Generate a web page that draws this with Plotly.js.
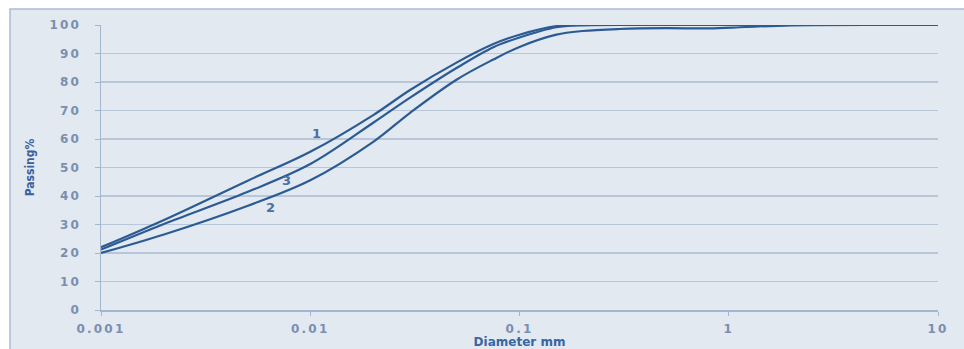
<!DOCTYPE html>
<html>
<head>
<meta charset="utf-8">
<script src="https://cdn.plot.ly/plotly-3.0.1.min.js"></script>
<style>
html,body{margin:0;padding:0;background:#ffffff;}
#chart{width:964px;height:349px;}
.xtick text,.ytick text{letter-spacing:2.2px;}
</style>
</head>
<body>
<div id="chart"></div>
<script>
// Diameters (mm) and percent passing for each curve
var diam1 = [0.001, 0.002, 0.005, 0.01, 0.02, 0.03, 0.05, 0.075, 0.1, 0.15, 0.2, 0.5, 1, 2, 10];
var pass1 = [22, 31.6, 45.3, 55.5, 68.4, 77.2, 86.8, 93.3, 96.6, 99.6, 100, 100, 100, 100, 100];

var diam2 = [0.001, 0.002, 0.005, 0.01, 0.02, 0.03, 0.05, 0.075, 0.1, 0.15, 0.2, 0.3, 0.5, 0.8, 1.2, 2, 10];
var pass2 = [20, 26.5, 36.5, 45.5, 59, 69.2, 80.8, 87.9, 92.3, 96.6, 97.9, 98.6, 98.9, 98.8, 99.3, 99.9, 100];

var diam3 = [0.001, 0.002, 0.005, 0.01, 0.02, 0.03, 0.05, 0.075, 0.1, 0.15, 0.2, 0.5, 1, 2, 10];
var pass3 = [21.2, 30.2, 41.4, 51.2, 65.7, 74.5, 84.9, 92.2, 95.6, 99.2, 99.9, 100, 100, 100, 100];

var curveLabels = ["1", "2", "3"];
var labelX = [0.01076, 0.00643, 0.00774];
var labelY = [62.1, 35.8, 45.3];

var xTickVals = [0.001, 0.01, 0.1, 1, 10];
var xTickText = ["0.001", "0.01", "0.1", "1", "10"];

var lineColor = "#2c5b93";
function trace(x, y, name) {
  return {x: x, y: y, name: name, type: "scatter", mode: "lines",
          line: {color: lineColor, width: 2.2, shape: "spline", smoothing: 1},
          hoverinfo: "skip", showlegend: false};
}
var data = [trace(diam1, pass1, "1"), trace(diam2, pass2, "2"), trace(diam3, pass3, "3")];

var annotations = curveLabels.map(function (t, i) {
  return {x: Math.log10(labelX[i]), y: labelY[i], xref: "x", yref: "y", text: t,
          showarrow: false, font: {family: "DejaVu Sans", size: 13, color: "#4a6fa2", weight: "bold"}};
});

var layout = {
  width: 964, height: 349,
  margin: {l: 101, r: 26, t: 25, b: 39, pad: 0},
  paper_bgcolor: "#ffffff",
  plot_bgcolor: "rgba(0,0,0,0)",
  shapes: [{type: "rect", xref: "paper", yref: "paper", layer: "below",
            x0: -0.1087, x1: 1.04, y0: -0.15, y1: 1.0561,
            fillcolor: "#e2e9f1", line: {color: "#abbcd4", width: 1.5}}],
  xaxis: {type: "log", range: [-3, 1], tickvals: xTickVals, ticktext: xTickText,
          showgrid: false, zeroline: false, showline: true, linecolor: "#a3b6d0", linewidth: 1.5,
          ticks: "outside", ticklen: 4, tickcolor: "#a3b6d0", ticklabelstandoff: 3,
          tickfont: {family: "DejaVu Sans", size: 12, color: "#7a8fb0", weight: "bold"},
          title: {text: "Diameter mm", standoff: 4,
                  font: {family: "DejaVu Sans", size: 12, color: "#3766a2", weight: "bold"}}},
  yaxis: {range: [0, 100], dtick: 10, tick0: 0,
          showgrid: true, gridcolor: "#b8c6da", gridwidth: 1.5, zeroline: false,
          showline: true, linecolor: "#a3b6d0", linewidth: 1.5,
          ticks: "outside", ticklen: 5, tickcolor: "#a3b6d0", ticklabelstandoff: 11,
          tickfont: {family: "DejaVu Sans", size: 12, color: "#7a8fb0", weight: "bold"},
          title: {text: "Passing%", standoff: 12,
                  font: {family: "Liberation Sans Narrow, DejaVu Sans Condensed, sans-serif", size: 12, color: "#3a619a", weight: "bold"}}},
  annotations: annotations
};

Plotly.newPlot("chart", data, layout, {displayModeBar: false, staticPlot: true});
</script>
</body>
</html>
